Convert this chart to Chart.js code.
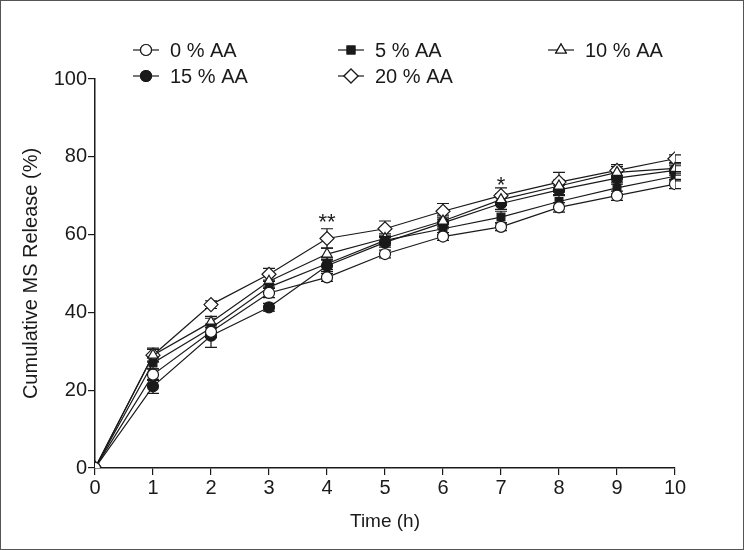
<!DOCTYPE html>
<html lang="en">
<head>
  <meta charset="UTF-8" />
  <title>Cumulative MS Release</title>
  <style>
    body {
      margin: 0;
      padding: 0;
      background: #fff;
    }
    #wrap {
      width: 744px;
      height: 550px;
      box-sizing: border-box;
      border: 1px solid #555;
      position: relative;
    }
    canvas {
      position: absolute;
      left: 0;
      top: 0;
    }
  </style>
  <script src="https://cdn.jsdelivr.net/npm/chart.js"></script>
</head>
<body>
  <div id="wrap">
    <canvas id="releaseChart" width="742" height="548"></canvas>
  </div>

  <script>
    const hours = [0, 1, 2, 3, 4, 5, 6, 7, 8, 9, 10];
    const seriesNames = ["0 % AA", "5 % AA", "10 % AA", "15 % AA", "20 % AA"];

    const aa0  = [0, 24.0, 35.0, 45.0, 49.0, 55.0, 59.5, 62.0, 67.0, 70.0, 73.0];
    const aa5  = [0, 27.0, 36.0, 46.5, 52.5, 58.5, 61.5, 64.5, 68.5, 72.0, 75.0];
    const aa10 = [0, 29.0, 37.5, 48.0, 55.0, 59.0, 63.5, 69.0, 72.5, 76.0, 77.0];
    const aa15 = [0, 21.0, 34.0, 41.3, 52.0, 58.0, 63.0, 68.0, 71.5, 74.5, 76.5];
    const aa20 = [0, 29.0, 42.0, 49.8, 59.0, 61.5, 66.0, 70.0, 73.5, 76.5, 79.5];

    const err0  = [0, 1.5, 1.2, 1.2, 1.0, 1.0, 1.0, 1.0, 1.2, 1.2, 1.2];
    const err5  = [0, 1.5, 2.5, 1.5, 1.5, 1.2, 1.5, 1.5, 1.5, 1.5, 1.2];
    const err10 = [0, 1.8, 1.5, 1.5, 1.5, 1.2, 1.5, 1.5, 1.5, 1.5, 1.2];
    const err15 = [0, 1.8, 3.0, 1.0, 1.5, 1.2, 1.5, 1.5, 1.2, 1.5, 1.2];
    const err20 = [0, 1.5, 1.0, 1.5, 2.5, 2.0, 2.0, 2.0, 2.5, 1.5, 1.0];

    const marks = [
      { x: 4, y: 63, text: "**" },
      { x: 7, y: 72.5, text: "*" }
    ];

    const yTicks = [0, 20, 40, 60, 80, 100];
    const ink = "#1a1a1a";
    const font = "'Liberation Sans', Arial, sans-serif";

    function pts(values) {
      return hours.map((h, i) => ({ x: h, y: values[i] }));
    }

    const styles = [
      { style: "circle", fill: "#fff", r: 5.5 },
      { style: "rect", fill: ink, r: 5.5 },
      { style: "triangle", fill: "#fff", r: 6 },
      { style: "circle", fill: ink, r: 5.5 },
      { style: "rectRot", fill: "#fff", r: 7 }
    ];
    const allValues = [aa0, aa5, aa10, aa15, aa20];
    const allErrors = [err0, err5, err10, err15, err20];

    const datasets = allValues.map((vals, k) => ({
      label: seriesNames[k],
      data: pts(vals),
      errors: allErrors[k],
      borderColor: ink,
      borderWidth: 1.2,
      pointStyle: styles[k].style,
      pointRadius: styles[k].r,
      pointBackgroundColor: styles[k].fill,
      pointBorderColor: ink,
      pointBorderWidth: 1.2,
      fill: false,
      tension: 0
    }));

    // error bars under the markers
    const errorBars = {
      id: "errorBars",
      beforeDatasetsDraw(chart) {
        const c = chart.ctx;
        const xs = chart.scales.x, ys = chart.scales.y;
        c.save();
        c.strokeStyle = ink;
        c.lineWidth = 1.2;
        chart.data.datasets.forEach(ds => {
          ds.data.forEach((p, i) => {
            const e = ds.errors[i];
            if (!e) return;
            const px = xs.getPixelForValue(p.x);
            const top = ys.getPixelForValue(p.y + e);
            const bot = ys.getPixelForValue(p.y - e);
            c.beginPath();
            c.moveTo(px, top); c.lineTo(px, bot);
            c.moveTo(px - 6, top); c.lineTo(px + 6, top);
            c.moveTo(px - 6, bot); c.lineTo(px + 6, bot);
            c.stroke();
          });
        });
        c.restore();
      },
      afterDatasetsDraw(chart) {
        const c = chart.ctx;
        const xs = chart.scales.x, ys = chart.scales.y;
        c.save();
        c.fillStyle = ink;
        c.font = "22px " + font;
        c.textAlign = "center";
        c.textBaseline = "middle";
        marks.forEach(m => {
          c.fillText(m.text, xs.getPixelForValue(m.x), ys.getPixelForValue(m.y));
        });
        c.restore();
      }
    };

    // legend in three columns, line through the marker
    const legendBox = {
      id: "legendBox",
      afterDraw(chart) {
        const c = chart.ctx;
        const cols = [145, 350, 560];
        const rows = [49, 75];
        c.save();
        c.font = "20px " + font;
        c.textBaseline = "middle";
        c.textAlign = "left";
        chart.data.datasets.forEach((ds, k) => {
          const cx = cols[k % 3], cy = rows[Math.floor(k / 3)];
          c.strokeStyle = ink;
          c.lineWidth = 1.2;
          c.beginPath();
          c.moveTo(cx - 13, cy); c.lineTo(cx + 13, cy);
          c.stroke();
          c.fillStyle = ds.pointBackgroundColor;
          Chart.helpers.drawPoint(c, {
            pointStyle: ds.pointStyle,
            radius: ds.pointRadius,
            borderWidth: 1.2,
            rotation: 0
          }, cx, cy);
          c.fill();
          c.stroke();
          c.fillStyle = ink;
          c.fillText(ds.label, cx + 24, cy + 1);
        });
        c.restore();
      }
    };

    const ctx = document.getElementById("releaseChart").getContext("2d");
    new Chart(ctx, {
      type: "line",
      data: { datasets: datasets },
      options: {
        responsive: false,
        animation: false,
        layout: { padding: { top: 78, right: 68, left: 14, bottom: 12 } },
        plugins: {
          legend: { display: false },
          tooltip: { enabled: false }
        },
        scales: {
          x: {
            type: "linear",
            min: 0,
            max: 10,
            afterFit(scale) { scale.height = 69; },
            ticks: {
              stepSize: 1,
              color: ink,
              font: { family: font, size: 20 },
              padding: 1
            },
            grid: {
              display: true,
              drawOnChartArea: false,
              drawTicks: true,
              tickLength: 7,
              color: ink,
              lineWidth: 1.2
            },
            border: { color: ink, width: 1.5 },
            title: {
              display: true,
              text: "Time (h)",
              color: ink,
              font: { family: font, size: 19 },
              padding: { top: 2 }
            }
          },
          y: {
            min: 0,
            max: 100,
            afterFit(scale) { scale.width = 80; },
            afterBuildTicks(scale) {
              scale.ticks = yTicks.map(v => ({ value: v }));
            },
            ticks: {
              color: ink,
              font: { family: font, size: 20 },
              padding: 1
            },
            grid: {
              display: true,
              drawOnChartArea: false,
              drawTicks: true,
              tickLength: 7,
              color: ink,
              lineWidth: 1.2
            },
            border: { color: ink, width: 1.5 },
            title: {
              display: true,
              text: "Cumulative MS Release (%)",
              color: ink,
              font: { family: font, size: 20 },
              padding: { bottom: 2 }
            }
          }
        }
      },
      plugins: [errorBars, legendBox]
    });
  </script>
</body>
</html>
